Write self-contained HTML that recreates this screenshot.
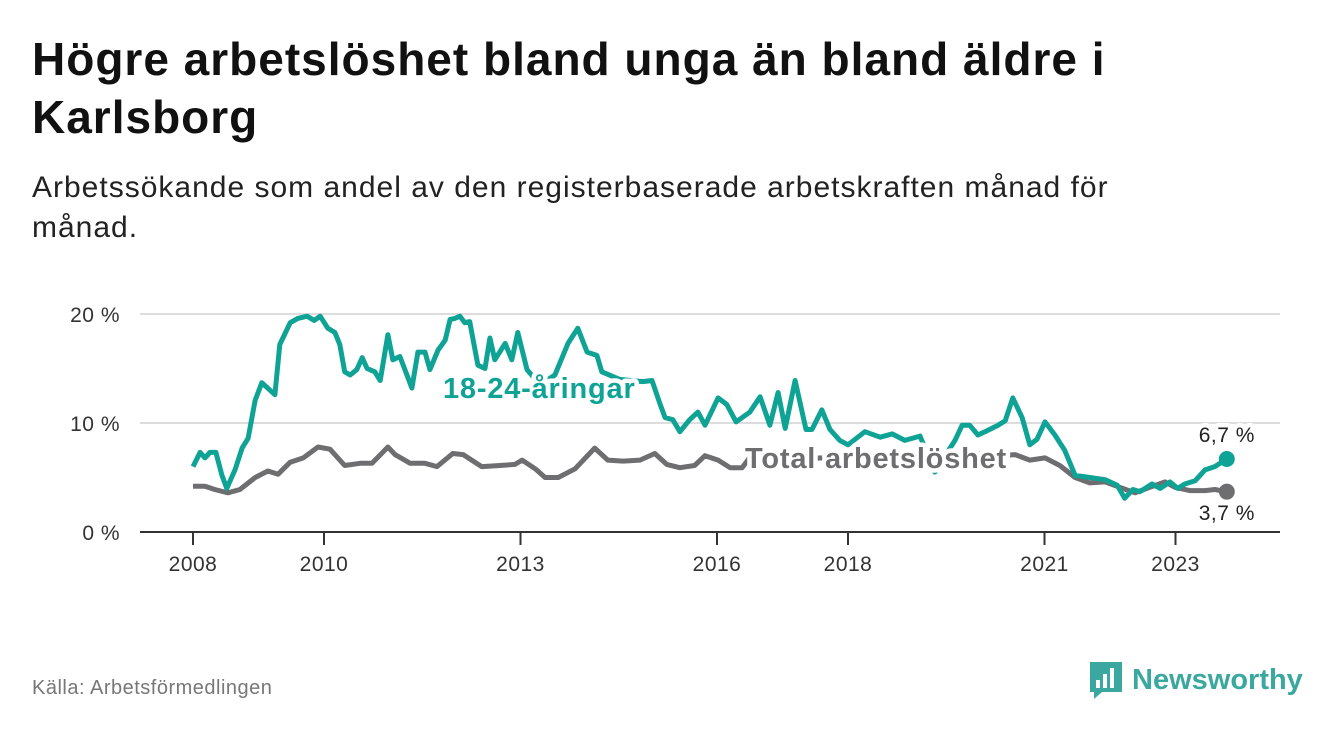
<!DOCTYPE html>
<html><head><meta charset="utf-8">
<style>
body{margin:0;width:1340px;height:734px;background:#fff;font-family:"Liberation Sans",sans-serif;overflow:hidden;position:relative}
h1{position:absolute;left:32px;top:30px;margin:0;font-size:46px;line-height:58px;font-weight:bold;color:#111;width:1180px;letter-spacing:1px}
.sub{position:absolute;left:32px;top:168px;font-size:30px;line-height:40px;color:#222;width:1180px;letter-spacing:1px}
.src{position:absolute;left:32px;top:677px;font-size:20px;color:#777;letter-spacing:0.5px}
.logo{position:absolute;left:1088px;top:660px;display:flex;align-items:center;gap:8px;color:#3aa89e;font-size:29px;font-weight:bold}
</style></head><body>
<h1>Högre arbetslöshet bland unga än bland äldre i Karlsborg</h1>
<div class="sub">Arbetssökande som andel av den registerbaserade arbetskraften månad för månad.</div>
<svg id="chart" width="1340" height="734" style="position:absolute;left:0;top:0"></svg>
<div class="src">Källa: Arbetsförmedlingen</div>
<div class="logo">
<svg width="36" height="40" viewBox="0 0 36 40"><path d="M2 2h32v30H14l-8 7v-7H2z" fill="#3aa89e"/><rect x="8" y="20" width="4" height="8" fill="#fff"/><rect x="15" y="14" width="4" height="14" fill="#fff"/><rect x="22" y="8" width="4" height="20" fill="#fff"/></svg>
<span>Newsworthy</span></div>
<script>
// months since Jan 2008
const youthMonths=[0,1.3,2.2,3.1,4.2,5.3,6.2,7.7,9.0,10.1,11.4,12.6,15.0,15.9,17.8,19.2,20.9,22.2,23.3,24.7,26.0,26.9,27.8,28.8,30.0,31.0,31.9,33.3,34.3,35.7,36.6,37.9,40.1,41.2,42.5,43.4,44.9,46.2,47.1,48.0,48.9,49.8,50.7,52.2,53.5,54.4,55.3,57.2,58.4,59.5,61.2,63.6,66.3,68.7,70.5,72.2,74.0,74.9,78.2,82.4,84.1,85.6,86.5,87.9,89.2,91.0,92.5,93.8,96.2,97.8,99.5,102,103.9,105.7,107.2,108.5,110.3,112.3,113.4,115.2,116.7,118.5,120,123.1,125.9,128.1,130.4,133.2,135.9,137.8,139.6,140.9,142.3,143.8,145.1,147.5,148.8,150.2,151.9,153.3,154.6,156.1,157.9,159.7,161.6,164.3,167.1,169.3,170.7,172.2,173.5,175.7,177.2,179,180.4,181.7,183.6,185.4,187.2,189.4];
const youthValues=[6.0,7.3,6.8,7.3,7.3,5.2,4.0,5.7,7.7,8.6,12.1,13.7,12.6,17.2,19.2,19.6,19.8,19.4,19.8,18.7,18.3,17.2,14.7,14.4,14.9,16.0,15.0,14.7,13.9,18.1,15.8,16.1,13.2,16.5,16.5,14.9,16.7,17.6,19.5,19.6,19.8,19.2,19.3,15.3,15.0,17.8,15.8,17.3,15.8,18.3,14.9,13.5,14.4,17.3,18.7,16.5,16.2,14.7,14.0,13.8,13.9,11.7,10.5,10.3,9.2,10.3,11.0,9.8,12.3,11.7,10.1,11.0,12.4,9.8,12.8,9.5,13.9,9.4,9.4,11.2,9.4,8.4,8.0,9.2,8.7,9.0,8.4,8.8,5.5,7.0,8.4,9.8,9.8,8.9,9.2,9.8,10.2,12.3,10.5,8.0,8.5,10.1,8.9,7.5,5.2,5.0,4.8,4.3,3.1,3.9,3.7,4.4,4.0,4.6,4.0,4.4,4.7,5.7,6.0,6.7];
const totalMonths=[0,2.2,4.0,6.4,8.6,11.4,13.7,15.6,17.8,20.2,22.9,25.1,27.8,30.6,32.8,35.7,37.0,39.8,42.5,44.7,47.6,49.5,52.9,56.2,59.0,60.3,62.7,64.5,66.9,70.0,73.6,76.0,78.8,81.9,84.6,86.8,89.2,91.9,93.8,96.2,98.4,100.6,103,105.7,108.5,111.2,114.9,118.5,122.2,125.9,129.5,133.2,136.8,140.5,144.2,147.8,150.6,153.3,156.1,158.8,161.6,164.3,167.1,169.8,172.6,175.3,178.1,179.9,182.6,185.4,187.2,189.4];
const totalValues=[4.2,4.2,3.9,3.6,3.9,5.0,5.6,5.3,6.4,6.8,7.8,7.6,6.1,6.3,6.3,7.8,7.1,6.3,6.3,6.0,7.2,7.1,6.0,6.1,6.2,6.6,5.8,5.0,5.0,5.8,7.7,6.6,6.5,6.6,7.2,6.2,5.9,6.1,7.0,6.6,5.9,5.9,7.5,7.0,6.5,6.5,6.8,6.6,6.5,6.3,6.5,6.8,6.4,6.8,7.2,7.0,7.1,6.6,6.8,6.1,5.0,4.5,4.6,4.1,3.6,4.1,4.6,4.1,3.8,3.8,3.9,3.7];
const yTicks=[0,10,20];
const yTickLabels=["0 %","10 %","20 %"];
const xTickYears=[2008,2010,2013,2016,2018,2021,2023];
const NS="http://www.w3.org/2000/svg";
const svg=document.getElementById('chart');
const X=m=>193+m*(65.5/12);
const XY=y=>X((y-2008)*12);
const Y=v=>532-v*10.9;
function mk(t,a){const e=document.createElementNS(NS,t);for(const k in a)e.setAttribute(k,a[k]);svg.appendChild(e);return e;}
yTicks.forEach((t,i)=>{
 if(t>0){const g=mk('line',{x1:140,x2:1280,y1:Y(t),y2:Y(t),stroke:'#ddd','stroke-width':2});
 
 }
 const l=mk('text',{x:120,y:Y(t)+8,'text-anchor':'end','font-size':21,fill:'#333','letter-spacing':0.5});l.textContent=yTickLabels[i];
 
 
});
const ax=mk('line',{x1:140,x2:1280,y1:532,y2:532,stroke:'#333','stroke-width':2});


xTickYears.forEach(yr=>{
 const tk=mk('line',{x1:XY(yr),x2:XY(yr),y1:532,y2:545,stroke:'#333','stroke-width':2});
 
 
 const l=mk('text',{x:XY(yr),y:571,'text-anchor':'middle','font-size':21,fill:'#333','letter-spacing':0.5});l.textContent=yr;
 
 
});
function line(ms,vs,col,name){
 const d=ms.map((m,i)=>(i?'L':'M')+X(m).toFixed(1)+','+Y(vs[i]).toFixed(1)).join('');
 const p=mk('path',{d:d,fill:'none',stroke:col,'stroke-width':5,'stroke-linejoin':'round'});
 
 
 const n=ms.length-1;
 const c=mk('circle',{cx:X(ms[n]),cy:Y(vs[n]),r:8,fill:col});
 
 
}
line(totalMonths,totalValues,'#6e6d70','total-line');
line(youthMonths,youthValues,'#0fa396','youth-line');
function lab(txt,x,y,col,bold,name,halo){
 const t=mk('text',{x:x,y:y,'font-size':bold?29:21,'font-weight':bold?'bold':'normal',fill:col,'text-anchor':bold?'start':'middle','letter-spacing':bold?0.8:0.5});
 if(halo){t.setAttribute('stroke','#fff');t.setAttribute('stroke-width',9);t.setAttribute('paint-order','stroke');t.setAttribute('stroke-linejoin','round');}
 t.textContent=txt;
 
 
}
lab('18-24-åringar',443,398,'#0fa396',true,'youth-series-label',true);
lab('Total arbetslöshet',745,468,'#6e6d70',true,'total-series-label',true);
const n1=youthValues.length-1,n2=totalValues.length-1;
lab(String(youthValues[n1]).replace('.',',')+' %',X(youthMonths[n1]),442,'#222',false,'youth-end-value',true);
lab(String(totalValues[n2]).replace('.',',')+' %',X(totalMonths[n2]),520,'#222',false,'total-end-value',true);
</script>
</body></html>
